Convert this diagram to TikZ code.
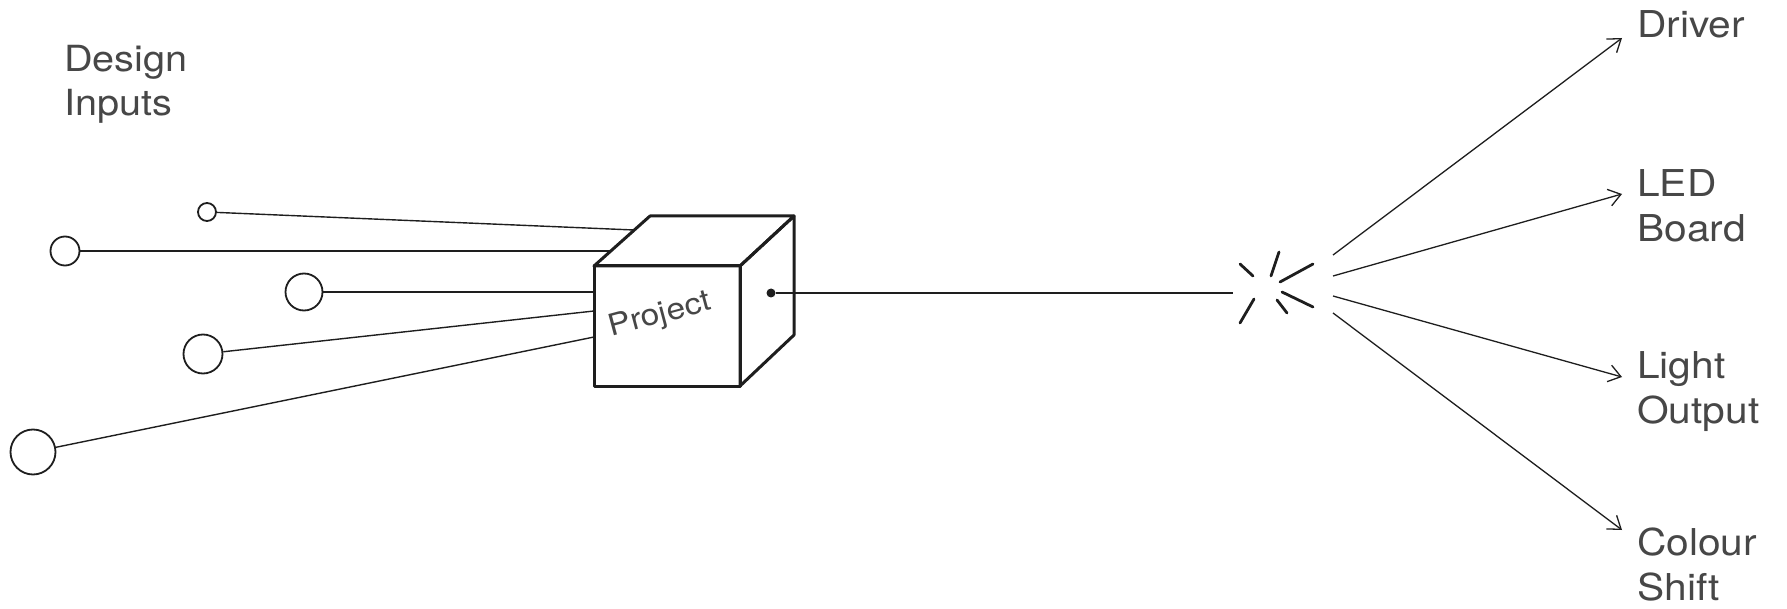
\documentclass[tikz,border=0pt]{standalone}
\usepackage{fontspec}
\setmainfont[FakeStretch=1.1]{TeX Gyre Heros}
\newfontfamily\projfont[FakeStretch=1.12]{TeX Gyre Heros}
\usetikzlibrary{arrows.meta}
\definecolor{ink}{HTML}{1E1E1E}
\definecolor{txt}{HTML}{474747}
\begin{document}
\begin{tikzpicture}[x=1pt,y=-1pt,
  wire/.style={draw=ink, line width=1.4pt},
  port/.style={circle, draw=ink, line width=1.8pt, inner sep=0pt, fill=white},
  cubeedge/.style={draw=ink, line width=3pt, line join=round},
  ray/.style={draw=ink, line width=2.8pt, line cap=round},
  outarrow/.style={draw=ink, line width=1.3pt, -{Straight Barb[length=12pt,width=17pt,line width=1.3pt]}},
  outlabel/.style={anchor=north west, inner sep=0pt, align=left, text=txt,
    font=\fontsize{37}{45}\selectfont},
  inlabel/.style={anchor=north west, inner sep=0pt, align=left, text=txt,
    font=\fontsize{36}{44}\selectfont},
  dotnode/.style={circle, fill=ink, inner sep=0pt, minimum size=9pt}]
\useasboundingbox (0,0) rectangle (1787,609);

% title
\node[inlabel] (design) at (64,45) {Design\\Inputs};

% input ports
\node[port, minimum size=18pt] (c1) at (207,212) {};
\node[port, minimum size=29pt] (c2) at (65,251) {};
\node[port, minimum size=37pt] (c3) at (304,292) {};
\node[port, minimum size=39pt] (c4) at (203,354) {};
\node[port, minimum size=45pt] (c5) at (33,452) {};

% cube corners
\coordinate (F1) at (594,266);
\coordinate (F2) at (740,266);
\coordinate (F3) at (740,386);
\coordinate (F4) at (594,386);
\coordinate (B1) at (650,216);
\coordinate (B2) at (794,216);
\coordinate (B3) at (794,335);

% input ends on cube
\coordinate (e1) at (634,230);
\coordinate (e2) at (611,251);
\coordinate (e3) at (594,292);
\coordinate (e4) at (594,311);
\coordinate (e5) at (594,337);

\draw[wire] (c1) -- (e1);
\draw[wire] (c2) -- (e2);
\draw[wire] (c3) -- (e3);
\draw[wire] (c4) -- (e4);
\draw[wire] (c5) -- (e5);

% cube
\draw[cubeedge] (F1) -- (B1) -- (B2) -- (F2) -- cycle;
\draw[cubeedge] (F2) -- (B2) -- (B3) -- (F3) -- cycle;
\draw[cubeedge] (F1) rectangle (F3);
\node[anchor=base, inner sep=0pt, rotate=15, text=txt,
  font=\projfont\fontsize{30}{34}\selectfont] (project) at (662,323) {Project};

% output
\node[dotnode] (out) at (771,293) {};
\coordinate (burst) at (1233,293);
\draw[wire] (out) -- (burst);

% spark
\draw[ray] (1240,264) -- (1253,276);
\draw[ray] (1279,252) -- (1271,276);
\draw[ray] (1280,282) -- (1313,264);
\draw[ray] (1254,299) -- (1240,323);
\draw[ray] (1277,300) -- (1287,313);
\draw[ray] (1282,292) -- (1313,307);

% outcomes
\coordinate (s1) at (1333,255);
\coordinate (s2) at (1333,276);
\coordinate (s3) at (1333,296);
\coordinate (s4) at (1333,313);
\coordinate (t1) at (1622,38);
\coordinate (t2) at (1622,194);
\coordinate (t3) at (1622,377);
\coordinate (t4) at (1622,530);

\node[outlabel] (driver) at (1637,10) {Driver};
\node[outlabel] (led) at (1637,169) {LED\\Board};
\node[outlabel] (light) at (1637,351) {Light\\Output};
\node[outlabel] (colour) at (1637,528) {Colour\\Shift};

\draw[outarrow] (s1) -- (t1);
\draw[outarrow] (s2) -- (t2);
\draw[outarrow] (s3) -- (t3);
\draw[outarrow] (s4) -- (t4);
\end{tikzpicture}
\end{document}
